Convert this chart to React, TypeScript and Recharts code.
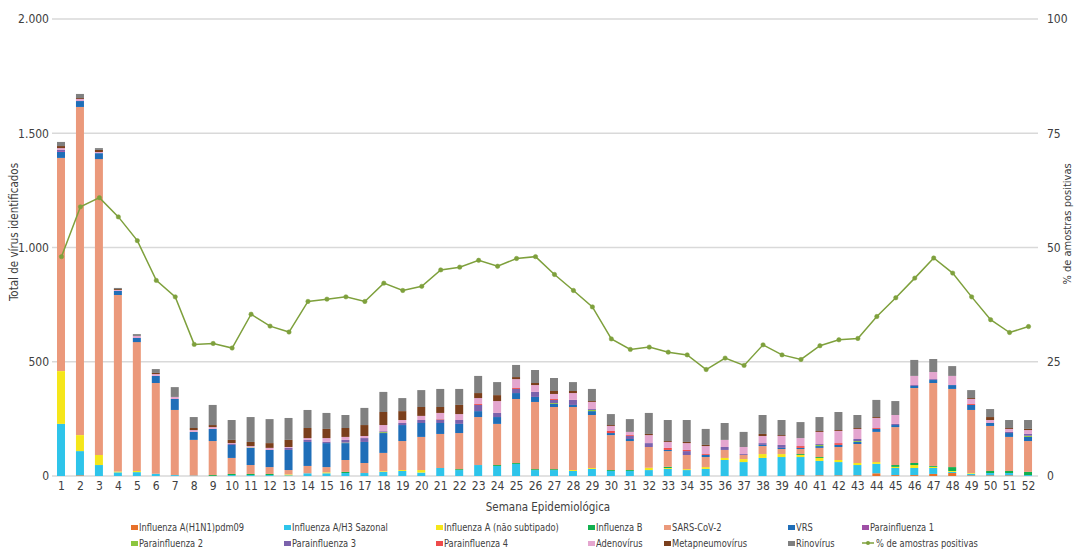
import React from "react";
import { ComposedChart, Bar, Line, XAxis, YAxis, CartesianGrid } from "recharts";

const weeks = [
  "1", "2", "3", "4", "5", "6", "7", "8", "9", "10", "11", "12", "13",
  "14", "15", "16", "17", "18", "19", "20", "21", "22", "23", "24", "25", "26",
  "27", "28", "29", "30", "31", "32", "33", "34", "35", "36", "37", "38", "39",
  "40", "41", "42", "43", "44", "45", "46", "47", "48", "49", "50", "51", "52",
];

const h1n1 = [0, 3, 0, 0, 0, 0, 0, 0, 0, 0, 0, 0, 0, 0, 0, 0, 0, 0, 0, 0, 0, 0, 0, 0, 0, 0, 0, 0, 0, 0, 0, 0, 0, 0, 0, 0, 0, 0, 0, 3, 3, 3, 3, 12, 4, 4, 9, 13, 3, 3, 3, 0];
const h3 = [228, 106, 48, 16, 17, 10, 4, 2, 0, 4, 4, 4, 3, 12, 12, 13, 13, 18, 22, 15, 35, 26, 48, 44, 53, 26, 26, 22, 31, 22, 22, 26, 31, 26, 31, 70, 61, 79, 83, 80, 63, 58, 45, 41, 31, 31, 26, 5, 7, 10, 10, 4];
const fluA = [231, 70, 44, 4, 5, 0, 0, 0, 0, 0, 0, 0, 4, 0, 4, 0, 0, 3, 4, 11, 0, 0, 0, 0, 0, 0, 0, 4, 4, 0, 0, 10, 4, 4, 8, 9, 13, 17, 13, 9, 13, 9, 9, 8, 5, 13, 5, 4, 3, 0, 0, 0];
const fluB = [0, 0, 0, 0, 0, 0, 0, 0, 4, 5, 5, 5, 0, 0, 0, 5, 0, 0, 0, 0, 0, 4, 0, 4, 4, 4, 4, 0, 0, 4, 4, 0, 5, 0, 0, 0, 0, 0, 0, 4, 4, 0, 0, 0, 8, 9, 4, 17, 0, 9, 9, 14];
const sars = [933, 1436, 1295, 772, 564, 397, 285, 156, 149, 70, 39, 30, 19, 32, 23, 52, 44, 80, 127, 145, 149, 158, 210, 180, 280, 294, 272, 276, 232, 153, 127, 91, 69, 62, 44, 35, 18, 35, 22, 22, 40, 57, 83, 132, 166, 328, 363, 342, 276, 197, 149, 135];
const vrs = [26, 26, 26, 18, 18, 31, 48, 35, 53, 57, 75, 75, 88, 105, 105, 74, 92, 87, 70, 61, 48, 40, 26, 30, 26, 22, 13, 9, 17, 9, 9, 0, 5, 0, 9, 0, 0, 5, 5, 5, 8, 9, 9, 13, 9, 9, 13, 17, 22, 13, 17, 18];
const para1 = [4, 0, 0, 0, 0, 0, 0, 0, 0, 0, 0, 0, 0, 0, 0, 0, 0, 0, 0, 0, 0, 0, 0, 0, 0, 0, 0, 0, 0, 0, 0, 0, 0, 0, 0, 0, 0, 0, 0, 0, 0, 0, 0, 0, 0, 0, 0, 0, 0, 0, 0, 0];
const para2 = [0, 0, 0, 0, 0, 0, 0, 0, 0, 0, 2, 0, 0, 0, 0, 2, 0, 4, 0, 0, 0, 0, 0, 0, 0, 0, 4, 0, 5, 0, 0, 0, 0, 0, 0, 0, 0, 0, 0, 0, 5, 0, 4, 0, 0, 0, 0, 0, 0, 0, 0, 5];
const para3 = [5, 0, 0, 0, 0, 0, 0, 0, 0, 4, 0, 0, 9, 9, 6, 12, 17, 4, 9, 13, 15, 17, 27, 18, 18, 22, 14, 22, 4, 0, 13, 17, 0, 17, 0, 13, 4, 8, 13, 0, 4, 0, 9, 0, 5, 4, 4, 0, 0, 0, 5, 8];
const para4 = [0, 0, 0, 0, 0, 0, 0, 0, 0, 0, 0, 0, 0, 0, 0, 0, 0, 0, 0, 0, 2, 0, 4, 0, 4, 0, 4, 0, 0, 9, 4, 0, 9, 5, 4, 0, 0, 0, 0, 8, 0, 8, 0, 4, 0, 0, 0, 0, 4, 0, 0, 0];
const adeno = [8, 9, 5, 4, 9, 8, 9, 8, 8, 4, 6, 9, 4, 8, 16, 13, 9, 27, 13, 18, 27, 26, 26, 52, 39, 30, 22, 30, 31, 22, 14, 35, 26, 30, 35, 31, 31, 31, 39, 35, 53, 53, 44, 44, 39, 40, 31, 40, 22, 13, 13, 17];
const meta = [9, 4, 9, 4, 0, 5, 0, 9, 9, 14, 18, 21, 31, 44, 40, 39, 48, 57, 39, 39, 26, 40, 22, 26, 9, 9, 13, 9, 4, 4, 0, 5, 4, 5, 5, 0, 0, 9, 4, 0, 4, 4, 4, 4, 0, 0, 0, 0, 4, 13, 4, 5];
const rino = [18, 18, 8, 5, 8, 17, 43, 48, 88, 87, 109, 105, 96, 79, 70, 57, 75, 88, 57, 74, 79, 70, 75, 57, 53, 57, 57, 39, 53, 48, 56, 92, 92, 96, 70, 74, 66, 83, 66, 70, 61, 79, 57, 75, 61, 70, 57, 43, 35, 35, 35, 39];
const pctPositive = [48.0, 58.9, 60.9, 56.7, 51.5, 42.8, 39.2, 28.8, 29.0, 28.0, 35.4, 32.8, 31.5, 38.2, 38.7, 39.2, 38.2, 42.2, 40.6, 41.5, 45.1, 45.7, 47.2, 45.9, 47.6, 48.0, 44.1, 40.6, 37.0, 30.0, 27.7, 28.2, 27.1, 26.5, 23.3, 25.8, 24.2, 28.7, 26.5, 25.5, 28.5, 29.8, 30.1, 34.9, 39.0, 43.3, 47.7, 44.4, 39.2, 34.2, 31.4, 32.7];

const countTicks = [0, 500, 1000, 1500, 2000];
const pctTicks = [0, 25, 50, 75, 100];

const series = [
  { key: "h1n1", name: "Influenza A(H1N1)pdm09", color: "#E8702A", values: h1n1 },
  { key: "h3", name: "Influenza A/H3 Sazonal", color: "#2EC4EA", values: h3 },
  { key: "fluA", name: "Influenza A (não subtipado)", color: "#F5E61A", values: fluA },
  { key: "fluB", name: "Influenza B", color: "#12B04F", values: fluB },
  { key: "sars", name: "SARS-CoV-2", color: "#EB997B", values: sars },
  { key: "vrs", name: "VRS", color: "#1F6EB8", values: vrs },
  { key: "para1", name: "Parainfluenza 1", color: "#9F4FA6", values: para1 },
  { key: "para2", name: "Parainfluenza 2", color: "#8CC63F", values: para2 },
  { key: "para3", name: "Parainfluenza 3", color: "#7B62AC", values: para3 },
  { key: "para4", name: "Parainfluenza 4", color: "#EE4B4B", values: para4 },
  { key: "adeno", name: "Adenovírus", color: "#E4A6CF", values: adeno },
  { key: "meta", name: "Metapneumovírus", color: "#7A3F1C", values: meta },
  { key: "rino", name: "Rinovírus", color: "#808080", values: rino },
];

const LINE_COLOR = "#7EA03C";
const FONT = '"Liberation Sans Narrow", "DejaVu Sans Condensed", "Roboto Condensed", sans-serif';
const TEXT = "#404040";

const data = weeks.map((week, i) => {
  const row: Record<string, string | number> = { week, pct: pctPositive[i] };
  series.forEach((s) => {
    row[s.key] = s.values[i];
  });
  return row;
});

const fmtCount = (v: number) => v.toLocaleString("pt-BR");

const legendCols = [131, 284, 436, 588, 664, 788, 862];

function LegendBox() {
  const items = [
    ...series.map((s) => ({ name: s.name, color: s.color, line: false })),
    { name: "% de amostras positivas", color: LINE_COLOR, line: true },
  ];
  return (
    <>
      {items.map((it, i) => {
        const row = Math.floor(i / 7);
        const col = i % 7;
        return (
          <div
            key={it.name}
            style={{
              position: "absolute",
              left: legendCols[col],
              top: 520 + row * 16,
              height: 14,
              display: "flex",
              alignItems: "center",
              fontFamily: FONT,
              fontSize: 11,
              color: TEXT,
              whiteSpace: "nowrap",
            }}
          >
            {it.line ? (
              <svg width={12} height={8} style={{ marginRight: 2 }}>
                <line x1={0} y1={4} x2={12} y2={4} stroke={it.color} strokeWidth={1.5} />
                <circle cx={6} cy={4} r={2} fill={it.color} />
              </svg>
            ) : (
              <span
                style={{
                  display: "inline-block",
                  width: 7,
                  height: 5,
                  background: it.color,
                  marginRight: 1,
                }}
              />
            )}
            <span
              style={{
                display: "inline-block",
                transform: "scaleX(0.84)",
                transformOrigin: "left center",
              }}
            >
              {it.name}
            </span>
          </div>
        );
      })}
    </>
  );
}

export default function App() {
  return (
    <div style={{ position: "absolute", left: 0, top: 0, width: 1076, height: 552, background: "#fff" }}>
      <ComposedChart
        width={1076}
        height={552}
        data={data}
        margin={{ top: 19, right: 0, bottom: 56, left: 0 }}
        barCategoryGap={0}
      >
        <CartesianGrid
          yAxisId="count"
          vertical={false}
          stroke="#D9D9D9"
          strokeWidth={1.5}
        />
        <XAxis
          dataKey="week"
          interval={0}
          axisLine={false}
          tickLine={false}
          tickSize={0}
          tickMargin={5}
          height={20}
          tick={{ fontFamily: FONT, fontSize: 12, fill: TEXT }}
        />
        <YAxis
          yAxisId="count"
          orientation="left"
          width={52}
          domain={[0, 2000]}
          ticks={countTicks}
          tickFormatter={fmtCount}
          axisLine={false}
          tickLine={false}
          tickSize={0}
          tickMargin={3}
          tick={{ fontFamily: FONT, fontSize: 12, fill: TEXT }}
        />
        <YAxis
          yAxisId="pct"
          orientation="right"
          width={38}
          domain={[0, 100]}
          ticks={pctTicks}
          axisLine={false}
          tickLine={false}
          tickSize={0}
          tickMargin={9}
          tick={{ fontFamily: FONT, fontSize: 12, fill: TEXT }}
        />
        {series.map((s) => (
          <Bar
            key={s.key}
            yAxisId="count"
            dataKey={s.key}
            name={s.name}
            stackId="virus"
            fill={s.color}
            barSize={8}
            isAnimationActive={false}
          />
        ))}
        <Line
          yAxisId="pct"
          type="linear"
          dataKey="pct"
          name="% de amostras positivas"
          stroke={LINE_COLOR}
          strokeWidth={1.5}
          dot={{ r: 2.2, fill: LINE_COLOR, stroke: LINE_COLOR, strokeWidth: 0.5 }}
          activeDot={false}
          isAnimationActive={false}
        />
      </ComposedChart>

      <div
        style={{
          position: "absolute",
          left: 14,
          top: 232,
          transform: "translate(-50%, -50%) rotate(-90deg)",
          fontFamily: FONT,
          fontSize: 11.5,
          color: TEXT,
          whiteSpace: "nowrap",
        }}
      >
        Total de vírus identificados
      </div>
      <div
        style={{
          position: "absolute",
          left: 1068,
          top: 224,
          transform: "translate(-50%, -50%) rotate(-90deg)",
          fontFamily: FONT,
          fontSize: 11,
          lineHeight: "12px",
          color: TEXT,
          whiteSpace: "nowrap",
        }}
      >
        % de amostras positivas
      </div>
      <div
        style={{
          position: "absolute",
          left: 548,
          top: 507,
          transform: "translate(-50%, -50%)",
          fontFamily: FONT,
          fontSize: 11.5,
          color: TEXT,
          whiteSpace: "nowrap",
        }}
      >
        Semana Epidemiológica
      </div>
      <LegendBox />
    </div>
  );
}
